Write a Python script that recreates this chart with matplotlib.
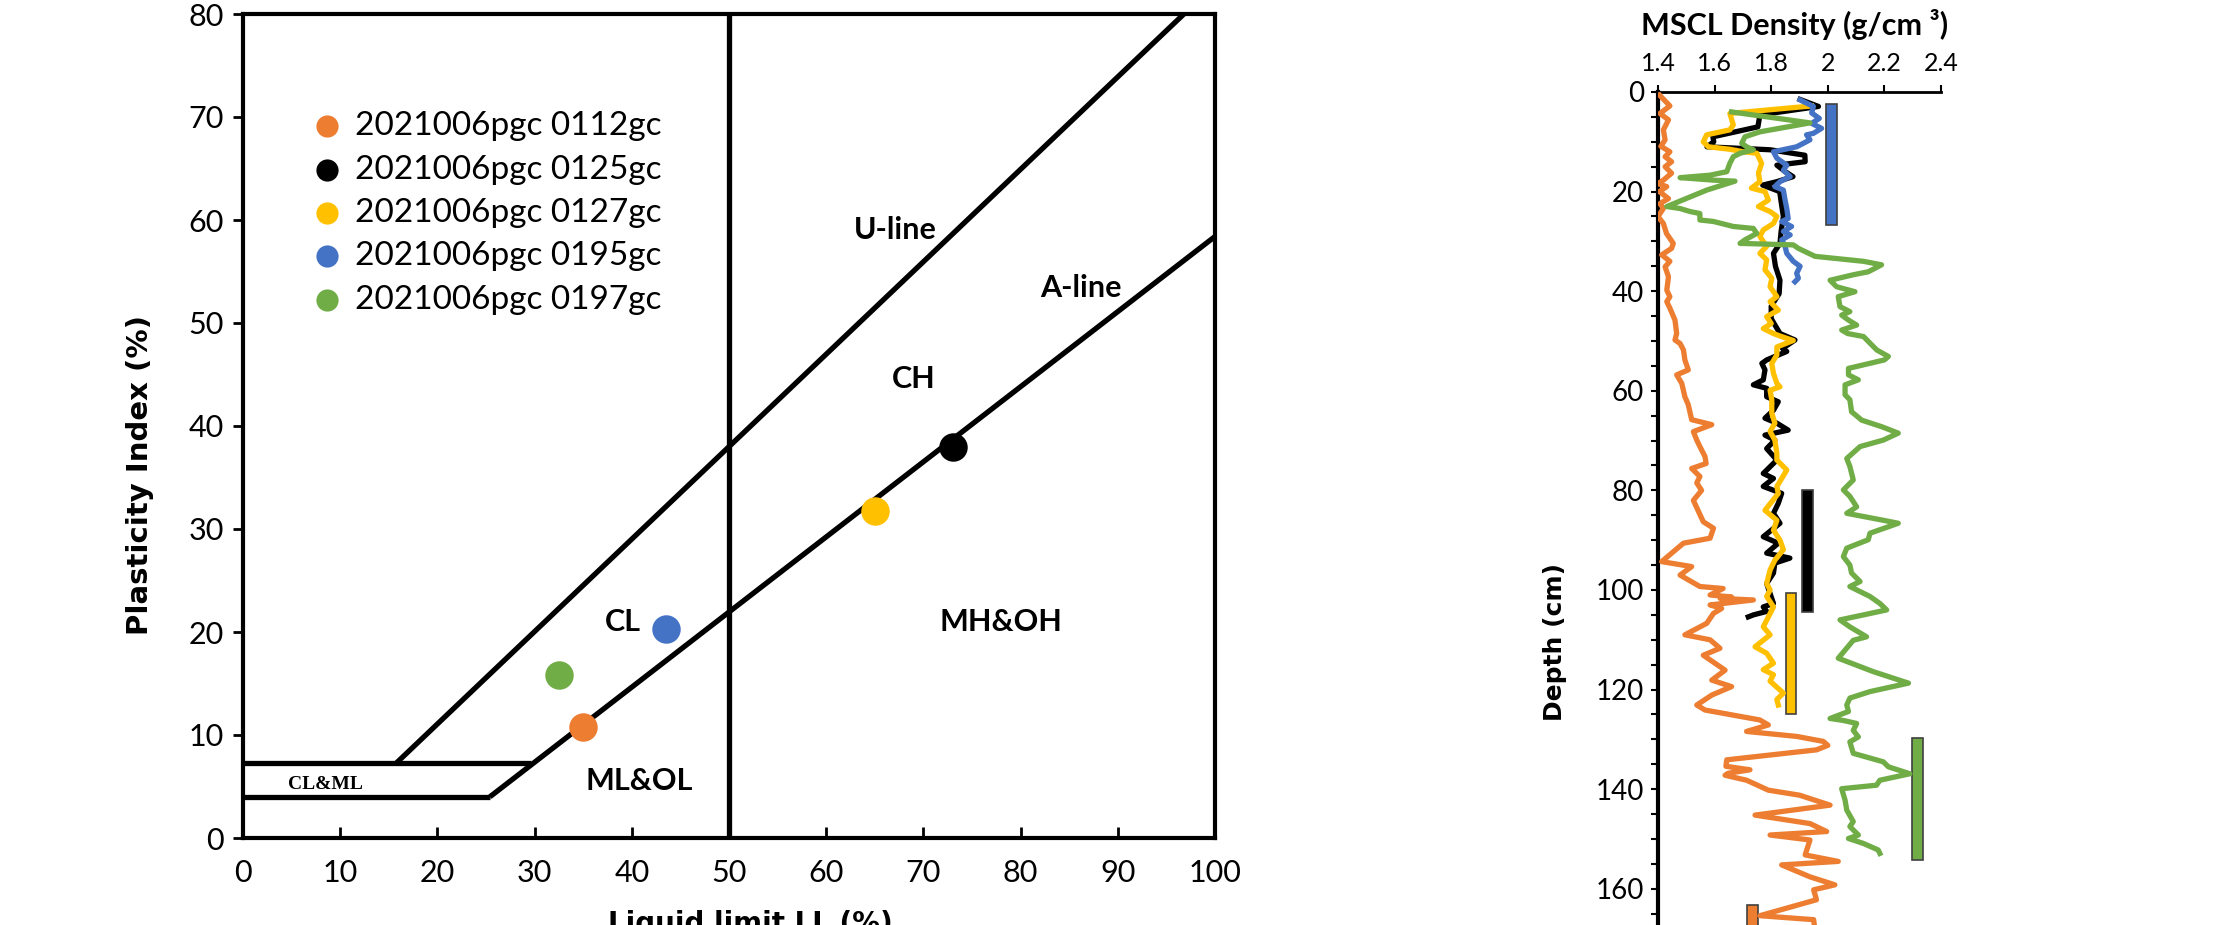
import numpy as np
import matplotlib
matplotlib.use("Agg")
import matplotlib.pyplot as plt

plt.rcParams['font.family'] = ['Lato', 'DejaVu Sans']

# ---------------- plasticity chart data ----------------
samples = ["2021006pgc 0112gc", "2021006pgc 0125gc", "2021006pgc 0127gc",
           "2021006pgc 0195gc", "2021006pgc 0197gc"]
colors = ["#ED7D31", "#000000", "#FFC000", "#4472C4", "#70AD47"]
liquid_limit = [35.0, 73.0, 65.0, 43.5, 32.5]
plasticity_index = [10.8, 38.0, 31.7, 20.3, 15.8]

u_line_ll = [15.8, 96.8]
u_line_pi = [7.3, 80.0]
a_line_ll = [25.4, 100.0]
a_line_pi = [4.0, 58.4]
clml_top_ll = [0.0, 29.6]
clml_top_pi = [7.3, 7.3]
clml_bot_ll = [0.0, 25.4]
clml_bot_pi = [4.0, 4.0]
ll50_ll = [50.0, 50.0]
ll50_pi = [0.0, 80.0]

zone_labels = ["U-line", "A-line", "CH", "CL", "MH&OH", "ML&OL"]
zone_ll = [67.1, 86.2, 69.0, 39.1, 78.0, 40.8]
zone_pi = [59.0, 53.4, 44.6, 21.0, 21.0, 5.5]

# ---------------- MSCL density profiles ----------------
orange_depth = [0.6, 2.8, 4.3, 5.6, 7.6, 9.6, 10.9, 12.0, 13.0, 14.0, 15.0, 16.3, 17.7, 18.4, 19.0,
                20.0, 21.4, 22.4, 23.4, 25.0, 26.4, 28.4, 30.4, 31.4, 32.7, 34.0, 35.1, 37.1, 39.8,
                41.1, 42.1, 43.4, 45.8, 48.5, 49.8, 50.5, 51.8, 53.8, 55.8, 56.8, 58.5, 61.2, 62.8,
                65.8, 66.8, 68.2, 69.9, 71.2, 73.2, 74.6, 75.6, 77.2, 78.5, 80.0, 82.0, 86.3, 87.6,
                89.6, 90.6, 94.3, 95.3, 97.0, 99.3, 99.7, 101.0, 101.4, 101.7, 102.0, 103.0, 103.7,
                104.7, 106.7, 109.0, 110.0, 111.7, 113.1, 116.1, 118.1, 119.4, 121.1, 123.1, 124.1,
                126.1, 127.1, 128.4, 129.4, 130.4, 131.2, 132.1, 134.1, 135.4, 136.1, 136.8, 137.2,
                138.2, 140.2, 141.2, 143.2, 145.2, 146.9, 148.5, 149.2, 150.2, 153.2, 154.5, 155.2,
                157.6, 159.2, 160.2, 162.2, 165.4, 166.2, 168.5]
orange_dens = [1.405, 1.442, 1.407, 1.437, 1.419, 1.425, 1.410, 1.442, 1.425, 1.448, 1.425, 1.448,
               1.419, 1.400, 1.431, 1.405, 1.437, 1.407, 1.419, 1.400, 1.419, 1.430, 1.454, 1.448,
               1.413, 1.442, 1.425, 1.437, 1.431, 1.442, 1.431, 1.442, 1.460, 1.466, 1.460, 1.478,
               1.490, 1.495, 1.507, 1.466, 1.484, 1.495, 1.507, 1.519, 1.590, 1.525, 1.537, 1.548,
               1.566, 1.570, 1.519, 1.548, 1.537, 1.554, 1.525, 1.560, 1.596, 1.584, 1.490, 1.413,
               1.519, 1.478, 1.548, 1.630, 1.584, 1.660, 1.620, 1.737, 1.584, 1.625, 1.596, 1.572,
               1.495, 1.584, 1.619, 1.560, 1.637, 1.590, 1.660, 1.590, 1.537, 1.566, 1.760, 1.790,
               1.713, 1.890, 1.984, 2.000, 1.960, 1.643, 1.640, 1.725, 1.648, 1.637, 1.713, 1.790,
               1.900, 2.008, 1.743, 1.937, 1.996, 1.796, 1.937, 1.920, 2.037, 1.837, 1.937, 2.025,
               1.950, 1.960, 1.760, 1.950, 1.955]

black_depth = [1.5, 2.9, 4.6, 7.0, 9.0, 10.0, 11.0, 11.6, 12.7, 14.0, 14.7, 16.0, 17.0, 18.0, 18.7,
               20.0, 22.0, 25.0, 28.0, 30.4, 32.4, 35.0, 37.8, 40.5, 43.0, 45.5, 48.5, 49.8, 51.5,
               52.1, 53.8, 54.5, 55.8, 57.8, 58.8, 59.5, 61.2, 62.2, 63.9, 65.5, 66.5, 67.9, 68.9,
               69.9, 71.6, 73.9, 76.6, 77.6, 79.2, 80.6, 82.6, 84.6, 86.6, 89.3, 90.6, 92.6, 93.6,
               94.6, 96.6, 98.7, 100.7, 102.7, 103.4, 104.3, 105.0, 105.4]
black_dens = [1.902, 1.967, 1.760, 1.753, 1.594, 1.597, 1.573, 1.796, 1.919, 1.920, 1.820, 1.850,
              1.877, 1.820, 1.770, 1.830, 1.835, 1.843, 1.835, 1.831, 1.808, 1.815, 1.831, 1.828,
              1.800, 1.800, 1.831, 1.884, 1.840, 1.855, 1.784, 1.767, 1.778, 1.772, 1.737, 1.784,
              1.784, 1.825, 1.808, 1.778, 1.820, 1.860, 1.778, 1.813, 1.784, 1.820, 1.772, 1.808,
              1.772, 1.837, 1.825, 1.808, 1.831, 1.772, 1.825, 1.784, 1.866, 1.813, 1.808, 1.784,
              1.796, 1.808, 1.772, 1.784, 1.737, 1.719]

yellow_depth = [2.8, 4.3, 6.6, 7.6, 8.6, 10.0, 11.0, 11.5, 12.0, 12.3, 14.3, 16.3, 18.0, 19.3, 20.0,
                21.7, 23.0, 24.0, 25.0, 26.4, 27.7, 29.0, 31.0, 32.4, 33.7, 35.7, 37.4, 39.1, 41.1,
                42.1, 43.8, 45.1, 46.5, 47.5, 48.5, 49.0, 49.9, 51.2, 52.8, 54.5, 56.5, 58.5, 59.2,
                59.9, 61.8, 64.5, 66.5, 68.2, 69.9, 72.6, 73.9, 75.9, 78.2, 79.2, 80.6, 84.0, 86.0,
                88.0, 90.0, 91.9, 94.0, 96.0, 98.7, 100.0, 101.3, 103.4, 105.4, 107.4, 109.0, 111.4,
                112.7, 114.7, 116.0, 117.0, 118.3, 120.7, 122.0, 123.1]
yellow_dens = [1.943, 1.654, 1.666, 1.654, 1.572, 1.560, 1.578, 1.654, 1.701, 1.749, 1.766, 1.755,
               1.760, 1.730, 1.778, 1.790, 1.755, 1.796, 1.820, 1.808, 1.772, 1.760, 1.784, 1.760,
               1.784, 1.778, 1.802, 1.796, 1.820, 1.796, 1.825, 1.784, 1.800, 1.772, 1.808, 1.831,
               1.878, 1.820, 1.820, 1.802, 1.808, 1.820, 1.831, 1.796, 1.802, 1.802, 1.813, 1.796,
               1.813, 1.820, 1.820, 1.855, 1.831, 1.820, 1.825, 1.778, 1.820, 1.808, 1.831, 1.843,
               1.813, 1.796, 1.784, 1.796, 1.784, 1.808, 1.790, 1.772, 1.796, 1.743, 1.784, 1.808,
               1.772, 1.808, 1.796, 1.843, 1.820, 1.825]

blue_depth = [1.6, 2.9, 4.2, 5.3, 6.3, 7.3, 8.3, 8.6, 9.6, 11.0, 12.0, 13.3, 14.7, 15.7, 17.0, 18.0,
              19.0, 19.7, 21.7, 23.4, 25.4, 26.0, 27.0, 28.0, 28.7, 29.7, 31.0, 32.4, 34.0, 35.0,
              36.4, 37.4, 38.1]
blue_dens = [1.902, 1.949, 1.943, 1.970, 1.943, 1.978, 1.949, 1.925, 1.937, 1.890, 1.808, 1.820,
             1.855, 1.843, 1.867, 1.831, 1.813, 1.843, 1.849, 1.855, 1.860, 1.837, 1.872, 1.843,
             1.867, 1.837, 1.849, 1.855, 1.878, 1.902, 1.890, 1.896, 1.884]

green_depth = [4.0, 6.2, 8.0, 9.0, 10.3, 11.0, 11.6, 12.3, 13.0, 14.3, 16.0, 16.7, 17.2, 17.7, 17.9,
               19.7, 23.0, 23.4, 24.0, 24.4, 25.7, 26.0, 27.0, 27.4, 28.4, 29.7, 30.4, 30.7, 31.4,
               33.0, 34.0, 34.7, 36.1, 36.7, 37.8, 39.1, 40.1, 41.1, 43.1, 44.1, 44.8, 45.8, 46.8,
               47.8, 48.5, 49.1, 51.8, 53.1, 53.8, 55.5, 56.8, 57.8, 58.8, 60.8, 61.8, 64.2, 65.9,
               67.2, 68.5, 69.9, 71.2, 73.6, 75.2, 77.9, 79.9, 81.2, 83.3, 84.6, 86.0, 86.6, 88.6,
               89.9, 91.6, 93.3, 95.0, 96.6, 98.3, 99.3, 101.3, 102.7, 104.0, 105.0, 106.0, 107.4,
               109.4, 110.1, 113.7, 116.4, 118.7, 120.4, 121.7, 123.1, 124.4, 125.8, 126.2, 126.8,
               128.2, 129.5, 130.5, 132.8, 134.5, 135.5, 136.9, 138.2, 139.2, 139.9, 142.2, 144.2,
               146.5, 147.5, 149.2, 149.9, 150.9, 152.2, 152.9]
green_dens = [1.660, 1.937, 1.760, 1.707, 1.696, 1.713, 1.737, 1.690, 1.666, 1.654, 1.643, 1.584,
              1.478, 1.596, 1.672, 1.572, 1.431, 1.478, 1.513, 1.548, 1.548, 1.596, 1.666, 1.737,
              1.749, 1.707, 1.690, 1.878, 1.896, 1.955, 2.126, 2.190, 2.143, 2.090, 2.008, 2.031,
              2.096, 2.037, 2.043, 2.078, 2.049, 2.073, 2.102, 2.049, 2.070, 2.126, 2.173, 2.214,
              2.200, 2.073, 2.073, 2.108, 2.061, 2.061, 2.078, 2.084, 2.120, 2.190, 2.249, 2.196,
              2.114, 2.067, 2.078, 2.090, 2.055, 2.078, 2.102, 2.067, 2.196, 2.249, 2.149, 2.143,
              2.067, 2.055, 2.078, 2.084, 2.114, 2.078, 2.149, 2.184, 2.208, 2.126, 2.043, 2.078,
              2.137, 2.090, 2.037, 2.161, 2.285, 2.149, 2.078, 2.067, 2.073, 2.008, 2.055, 2.102,
              2.090, 2.108, 2.078, 2.090, 2.196, 2.214, 2.290, 2.184, 2.172, 2.049, 2.061, 2.067,
              2.090, 2.078, 2.108, 2.073, 2.126, 2.178, 2.184]

# sampled intervals (bars): left density, width, top depth, bottom depth
bar_left = [1.714, 1.909, 1.851, 1.993, 2.298]
bar_width = [0.039, 0.039, 0.037, 0.039, 0.038]
bar_top = [163.3, 80.0, 100.6, 2.5, 129.8]
bar_bottom = [187.7, 104.4, 125.0, 26.8, 154.2]

W, H = 2215, 925
fig = plt.figure(figsize=(W / 100, H / 100), dpi=100)


def px_box(x0, x1, y_top, y_bot):
    return [x0 / W, 1 - y_bot / H, (x1 - x0) / W, (y_bot - y_top) / H]


# ---------------- left: plasticity chart ----------------
ax = fig.add_axes(px_box(243, 1215, 14, 838))
lw = 3.8
for xs, ys in [(u_line_ll, u_line_pi), (a_line_ll, a_line_pi), (clml_top_ll, clml_top_pi),
               (clml_bot_ll, clml_bot_pi), (ll50_ll, ll50_pi)]:
    ax.plot(xs, ys, color='black', lw=lw, solid_capstyle='butt', zorder=2)

for name, c, x, y in zip(samples, colors, liquid_limit, plasticity_index):
    ax.scatter(x, y, s=420, color=c, label=name, zorder=3, linewidths=0)

for t, x, y in zip(zone_labels, zone_ll, zone_pi):
    ax.text(x, y, t, fontsize=22, fontweight='bold', ha='center', va='center')
ax.text(8.5, 5.2, "CL&ML", fontsize=14, fontweight='bold', family='Liberation Serif',
        ha='center', va='center')

ax.set_xlim(0, 100)
ax.set_ylim(0, 80)
ax.set_xticks(np.arange(0, 101, 10))
ax.set_yticks(np.arange(0, 81, 10))
ax.tick_params(axis='x', direction='in', length=8, width=2, labelsize=22, pad=15)
ax.tick_params(axis='y', direction='out', length=7, width=2, labelsize=22, pad=7)
for sp in ax.spines.values():
    sp.set_linewidth(3)

ax.legend(loc='upper left', bbox_to_anchor=(0.074, 0.882), frameon=False, fontsize=24,
          markerscale=0.78, handlelength=0.7, handletextpad=0.5, labelspacing=0.40,
          borderpad=0, borderaxespad=0)

fig.text(140 / W, 1 - 475 / H, "Plasticity Index (%)", rotation=90, ha='center', va='center',
         fontsize=21, fontweight='bold', family='DejaVu Sans')
fig.text(750 / W, 1 - 910 / H, "Liquid limit LL (%)", ha='center', va='top',
         fontsize=20, fontweight='bold', family='DejaVu Sans')

# ---------------- right: MSCL density profile ----------------
ax2 = fig.add_axes(px_box(1658, 1941, 92, 92 + 220 * 4.98))
plw = 3.8
profiles = [(orange_dens, orange_depth), (black_dens, black_depth), (yellow_dens, yellow_depth),
            (blue_dens, blue_depth), (green_dens, green_depth)]
for (d, z), c in zip(profiles, colors):
    ax2.plot(d, z, color=c, lw=plw, zorder=3)

for x0, w, t, b, c in zip(bar_left, bar_width, bar_top, bar_bottom, colors):
    ax2.barh(t, w, height=b - t, left=x0, align='edge', color=c, edgecolor='#404040',
             linewidth=1.2, zorder=2)

ax2.set_xlim(1.4, 2.4)
ax2.set_ylim(220, 0)
ax2.xaxis.tick_top()
ax2.set_xticks(np.arange(1.4, 2.41, 0.2))
ax2.set_xticklabels(["%g" % round(v, 1) for v in np.arange(1.4, 2.41, 0.2)])
ax2.set_yticks(np.arange(0, 221, 20))
ax2.set_yticks(np.arange(0, 221, 5), minor=True)
ax2.tick_params(axis='x', direction='out', length=5, width=1.5, labelsize=18, pad=7)
ax2.tick_params(axis='y', which='both', direction='out', length=5, width=1.5, labelsize=20, pad=5)
ax2.spines['right'].set_visible(False)
ax2.spines['bottom'].set_visible(False)
ax2.spines['left'].set_linewidth(3)
ax2.spines['top'].set_linewidth(2)

fig.text(1795 / W, 1 - 25 / H, "MSCL Density (g/cm \u00b3)", ha='center', va='center',
         fontsize=22, fontweight='bold')
fig.text(1555 / W, 1 - 642 / H, "Depth (cm)", rotation=90, ha='center', va='center',
         fontsize=18, fontweight='bold', family='DejaVu Sans')

fig.savefig("out.png", dpi=100)
